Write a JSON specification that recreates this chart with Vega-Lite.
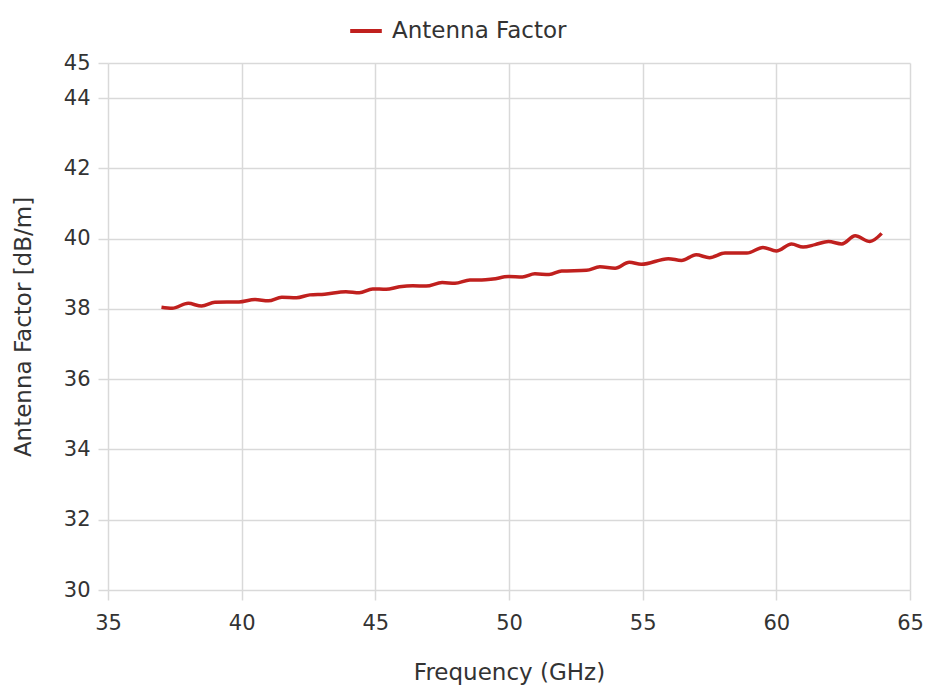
{
  "$schema": "https://vega.github.io/schema/vega-lite/v6.json",
  "width": 802,
  "height": 527,
  "autosize": "none",
  "padding": {"left": 108, "top": 63, "right": 20, "bottom": 106},
  "background": "white",
  "config": {
    "font": "DejaVu Sans",
    "view": {"stroke": null},
    "axis": {
      "labelFont": "DejaVu Sans",
      "titleFont": "DejaVu Sans",
      "labelFontSize": 21,
      "titleFontSize": 23,
      "titleFontWeight": "normal",
      "labelColor": "#333333",
      "titleColor": "#333333",
      "gridColor": "#d9d9d9",
      "gridWidth": 1.5,
      "tickColor": "#d9d9d9",
      "tickWidth": 1.5,
      "tickSize": 10,
      "domain": false,
      "labelFlush": false
    },
    "legend": {
      "labelFont": "DejaVu Sans",
      "labelFontSize": 23,
      "labelColor": "#333333",
      "labelLimit": 400
    }
  },
  "data": {
    "values": [
      {"f": 37.0, "v": 38.05, "s": "Antenna Factor"},
      {"f": 37.4, "v": 38.02, "s": "Antenna Factor"},
      {"f": 38.0, "v": 38.16, "s": "Antenna Factor"},
      {"f": 38.5, "v": 38.08, "s": "Antenna Factor"},
      {"f": 39.0, "v": 38.19, "s": "Antenna Factor"},
      {"f": 39.9, "v": 38.2, "s": "Antenna Factor"},
      {"f": 40.5, "v": 38.27, "s": "Antenna Factor"},
      {"f": 41.0, "v": 38.23, "s": "Antenna Factor"},
      {"f": 41.5, "v": 38.33, "s": "Antenna Factor"},
      {"f": 42.05, "v": 38.32, "s": "Antenna Factor"},
      {"f": 42.55, "v": 38.4, "s": "Antenna Factor"},
      {"f": 43.1, "v": 38.42, "s": "Antenna Factor"},
      {"f": 43.9, "v": 38.49, "s": "Antenna Factor"},
      {"f": 44.4, "v": 38.46, "s": "Antenna Factor"},
      {"f": 44.9, "v": 38.57, "s": "Antenna Factor"},
      {"f": 45.4, "v": 38.56, "s": "Antenna Factor"},
      {"f": 45.9, "v": 38.63, "s": "Antenna Factor"},
      {"f": 46.4, "v": 38.66, "s": "Antenna Factor"},
      {"f": 46.9, "v": 38.65, "s": "Antenna Factor"},
      {"f": 47.5, "v": 38.75, "s": "Antenna Factor"},
      {"f": 47.98, "v": 38.73, "s": "Antenna Factor"},
      {"f": 48.54, "v": 38.82, "s": "Antenna Factor"},
      {"f": 48.98, "v": 38.82, "s": "Antenna Factor"},
      {"f": 49.4, "v": 38.85, "s": "Antenna Factor"},
      {"f": 49.98, "v": 38.92, "s": "Antenna Factor"},
      {"f": 50.5, "v": 38.91, "s": "Antenna Factor"},
      {"f": 50.97, "v": 39.0, "s": "Antenna Factor"},
      {"f": 51.5, "v": 38.98, "s": "Antenna Factor"},
      {"f": 51.97, "v": 39.08, "s": "Antenna Factor"},
      {"f": 52.9, "v": 39.1, "s": "Antenna Factor"},
      {"f": 53.4, "v": 39.2, "s": "Antenna Factor"},
      {"f": 53.97, "v": 39.16, "s": "Antenna Factor"},
      {"f": 54.5, "v": 39.33, "s": "Antenna Factor"},
      {"f": 54.95, "v": 39.27, "s": "Antenna Factor"},
      {"f": 55.96, "v": 39.43, "s": "Antenna Factor"},
      {"f": 56.45, "v": 39.38, "s": "Antenna Factor"},
      {"f": 57.0, "v": 39.54, "s": "Antenna Factor"},
      {"f": 57.5, "v": 39.46, "s": "Antenna Factor"},
      {"f": 58.08, "v": 39.59, "s": "Antenna Factor"},
      {"f": 58.9, "v": 39.59, "s": "Antenna Factor"},
      {"f": 59.5, "v": 39.75, "s": "Antenna Factor"},
      {"f": 60.0, "v": 39.65, "s": "Antenna Factor"},
      {"f": 60.57, "v": 39.85, "s": "Antenna Factor"},
      {"f": 61.0, "v": 39.76, "s": "Antenna Factor"},
      {"f": 61.45, "v": 39.83, "s": "Antenna Factor"},
      {"f": 61.95, "v": 39.92, "s": "Antenna Factor"},
      {"f": 62.45, "v": 39.85, "s": "Antenna Factor"},
      {"f": 62.95, "v": 40.08, "s": "Antenna Factor"},
      {"f": 63.5, "v": 39.92, "s": "Antenna Factor"},
      {"f": 63.94, "v": 40.15, "s": "Antenna Factor"}
    ]
  },
  "mark": {"type": "line", "interpolate": "monotone", "strokeWidth": 3.5},
  "encoding": {
    "x": {
      "field": "f",
      "type": "quantitative",
      "scale": {"domain": [35, 65], "nice": false, "zero": false},
      "axis": {"values": [35, 40, 45, 50, 55, 60, 65], "title": "Frequency (GHz)", "titlePadding": 28, "labelPadding": 12}
    },
    "y": {
      "field": "v",
      "type": "quantitative",
      "scale": {"domain": [30, 45], "nice": false, "zero": false},
      "axis": {"values": [30, 32, 34, 36, 38, 40, 42, 44, 45], "title": "Antenna Factor [dB/m]", "titlePadding": 28, "labelPadding": 8}
    },
    "color": {
      "field": "s",
      "type": "nominal",
      "scale": {"range": ["#c0201e"]},
      "legend": {
        "title": null,
        "orient": "none",
        "legendX": 240,
        "legendY": -50,
        "symbolType": "stroke",
        "symbolStrokeWidth": 4,
        "symbolSize": 1000,
        "labelOffset": 8
      }
    }
  }
}
